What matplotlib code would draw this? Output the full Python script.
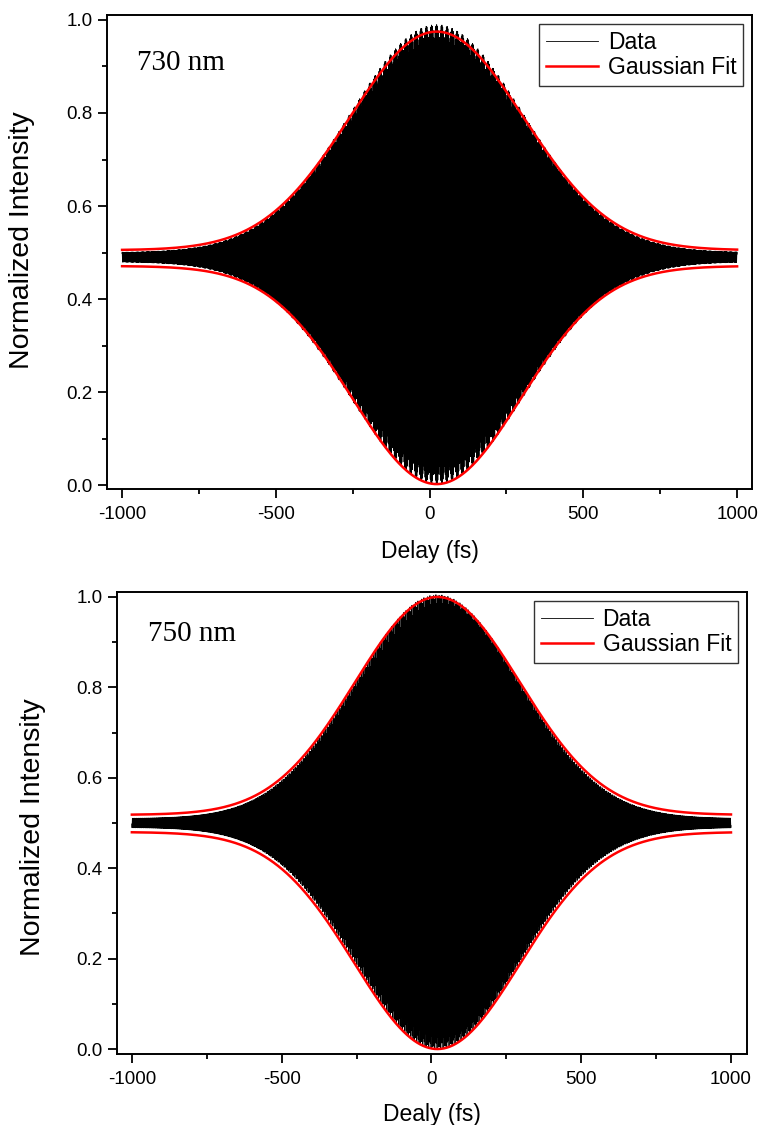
import numpy as np
import matplotlib
matplotlib.use("Agg")
import matplotlib.pyplot as plt
from matplotlib.ticker import MultipleLocator

# ---- values ----
panel_wavelength_nm = [730, 750]
panel_labels = ["730 nm", "750 nm"]
x_labels = ["Delay (fs)", "Dealy (fs)"]
delay_range_fs = [-1000, 1000]

# Gaussian fit envelopes: (baseline, amplitude, centre fs, sigma fs)
fit_upper = [(0.505, 0.470, 23, 283), (0.518, 0.482, 20, 276)]
fit_lower = [(0.471, -0.469, 23, 274), (0.480, -0.480, 20, 276)]
# measured data extents: (wing top, wing bottom, peak top, dip bottom)
data_extent = [(0.500, 0.480, 0.990, 0.003), (0.510, 0.490, 1.005, 0.000)]
sample_step_fs = [0.31, 0.29]

plt.rcParams['font.family'] = ['Liberation Sans', 'DejaVu Sans']

fig = plt.figure(figsize=(7.59, 11.25), dpi=100)
axes_rects = [[0.141, 0.5653, 0.850, 0.4214], [0.154, 0.0631, 0.830, 0.4107]]
xlims = [(-1049, 1049), (-1050, 1053)]
ylims = [(-0.0086, 1.0108), (-0.011, 1.011)]
text_pos = [(-951, 0.892), (-947, 0.903)]
xlabel_y = [-0.1076, -0.106]
ylabel_x = [-0.132, -0.1325]
ylabel_y = [0.525, 0.49]


def gauss(x, p):
    y0, a, xc, s = p
    return y0 + a * np.exp(-(x - xc) ** 2 / (2 * s ** 2))


for i in range(2):
    ax = fig.add_axes(axes_rects[i])
    x = np.arange(delay_range_fs[0], delay_range_fs[1] + 1e-9, sample_step_fs[i])
    wt, wb, pt, db = data_extent[i]
    g = np.exp(-(x - fit_upper[i][2]) ** 2 / (2 * fit_upper[i][3] ** 2))
    upper = wt + (pt - wt) * g
    lower = wb - (wb - db) * g
    period = panel_wavelength_nm[i] / 299.792458  # fs
    data = 0.5 * (upper + lower) + 0.5 * (upper - lower) * np.cos(2 * np.pi * (x - fit_upper[i][2]) / period)
    ax.plot(x, data, color='black', lw=0.6, label='Data', zorder=2)
    xf = np.linspace(delay_range_fs[0], delay_range_fs[1], 800)
    ax.plot(xf, gauss(xf, fit_upper[i]), color='#ff0000', lw=1.8, label='Gaussian Fit', zorder=3)
    ax.plot(xf, gauss(xf, fit_lower[i]), color='#ff0000', lw=1.8, zorder=3)

    ax.set_xlim(*xlims[i])
    ax.set_ylim(*ylims[i])
    ax.xaxis.set_major_locator(MultipleLocator(500))
    ax.xaxis.set_minor_locator(MultipleLocator(250))
    ax.yaxis.set_major_locator(MultipleLocator(0.2))
    ax.yaxis.set_minor_locator(MultipleLocator(0.1))
    ax.xaxis.set_major_formatter(matplotlib.ticker.FuncFormatter(lambda v, p: f"{v:.0f}"))
    ax.yaxis.set_major_formatter(matplotlib.ticker.FuncFormatter(lambda v, p: f"{v:.1f}"))
    ax.tick_params(which='both', direction='out', top=False, right=False, width=1.3)
    ax.tick_params(which='major', length=6.5, labelsize=13.5)
    ax.tick_params(axis='x', which='major', pad=6)
    ax.tick_params(axis='y', which='major', pad=4)
    ax.tick_params(which='minor', length=3.5)
    for s in ax.spines.values():
        s.set_linewidth(1.4)

    ax.set_xlabel(x_labels[i], fontsize=16.5)
    ax.xaxis.set_label_coords(0.5, xlabel_y[i])
    ax.set_ylabel('Normalized Intensity', fontsize=20.5)
    ax.yaxis.label.set_va('center')
    ax.yaxis.set_label_coords(ylabel_x[i], ylabel_y[i])

    ax.text(text_pos[i][0], text_pos[i][1], panel_labels[i], family=['Liberation Serif', 'DejaVu Serif'],
            fontsize=21, va='baseline', ha='left')

    leg = ax.legend(loc='upper right', bbox_to_anchor=(0.986, 0.981), fontsize=16.5,
                    handlelength=2.3, handletextpad=0.4, borderpad=0.3, labelspacing=0.1,
                    fancybox=False, framealpha=1, edgecolor='#333333', borderaxespad=0)
    leg.get_frame().set_linewidth(1.0)

fig.savefig('out.png', dpi=100)
